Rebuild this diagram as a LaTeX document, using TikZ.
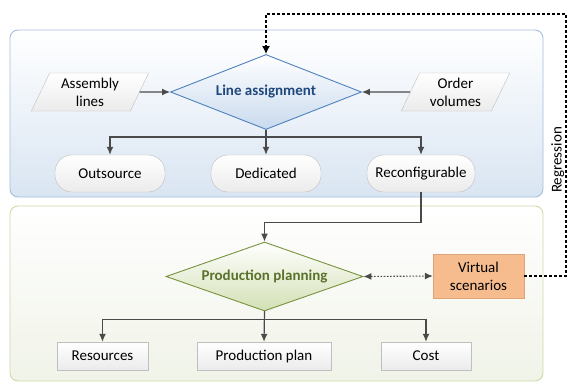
\documentclass[tikz,border=0pt]{standalone}
\usepackage{fontspec}
\setmainfont{Carlito}
\usepackage{tikz}
\usetikzlibrary{arrows.meta,shapes.geometric}

\definecolor{arrowgray}{HTML}{4A4A4A}
\definecolor{boxline}{HTML}{BFBFBF}
\definecolor{boxfill}{HTML}{EBEBEB}
\definecolor{blueline}{HTML}{4F81BD}
\definecolor{bluefill}{HTML}{C9DAEE}
\definecolor{bluetext}{HTML}{1F497D}
\definecolor{bluepanel}{HTML}{A3BEDD}
\definecolor{bluepanelfill}{HTML}{D9E5F2}
\definecolor{greenline}{HTML}{77933C}
\definecolor{greenfill}{HTML}{D3E0B5}
\definecolor{greentext}{HTML}{5A7229}
\definecolor{greenpanel}{HTML}{CCDBA8}
\definecolor{greenpanelfill}{HTML}{F0F3E8}
\definecolor{orangefill}{HTML}{F6BC8E}
\definecolor{orangeline}{HTML}{DDA47A}

\begin{document}
\begin{tikzpicture}[x=1pt,y=-1pt,
  font=\fontsize{15}{18}\selectfont,
  arr/.style={draw=arrowgray, line width=1.2pt, -{Latex[length=8pt,width=7pt]}},
  databox/.style={trapezium, trapezium left angle=66, trapezium right angle=114,
    trapezium stretches=true, draw=boxline, top color=white, bottom color=boxfill,
    align=center, minimum height=38pt, inner sep=1pt},
  pill/.style={rounded corners=17pt, draw=boxline, top color=white, bottom color=boxfill,
    minimum width=110pt, minimum height=37pt},
  result/.style={rectangle, draw=boxline, top color=white, bottom color=boxfill,
    minimum height=28pt},
  decision/.style={diamond, aspect=2.6, inner sep=1pt, line width=0.9pt, font=\fontsize{15}{18}\selectfont\bfseries}]

\useasboundingbox (0,0) rectangle (571,383);

\draw[rounded corners=8pt, draw=bluepanel, line width=0.9pt, top color=white, bottom color=bluepanelfill]
  (10,30) rectangle (543,197);
\draw[rounded corners=8pt, draw=greenpanel, line width=0.9pt, top color=white, bottom color=greenpanelfill]
  (10,206) rectangle (543,381);

\node[decision, draw=blueline, top color=white, bottom color=bluefill, text=bluetext,
  minimum width=191pt, minimum height=75pt] (la) at (266,92) {Line assignment};
\node[databox, minimum width=118pt] (asm) at (90,92) {Assembly\\lines};
\node[databox, minimum width=109pt] (ord) at (455.5,92) {Order\\volumes};

\node[pill] (out) at (110,173.5) {Outsource};
\node[pill] (ded) at (266,173.5) {Dedicated};
\node[pill, minimum width=108pt] (rec) at (421,173.5) {Reconfigurable};

\node[decision, draw=greenline, top color=white, bottom color=greenfill, text=greentext,
  minimum width=197pt, minimum height=69pt] (pp) at (264.5,276.5) {Production planning};
\node[rectangle, draw=orangeline, fill=orangefill, align=center,
  minimum width=91pt, minimum height=44pt] (vs) at (478.5,276) {Virtual\\scenarios};

\node[result, minimum width=91pt] (res) at (102.5,356) {Resources};
\node[result, minimum width=134pt] (plan) at (264,356) {Production plan};
\node[result, minimum width=90pt] (cost) at (426,356) {Cost};

\coordinate (regtop) at (566,14);

\draw[arr] (asm) -- (la.west);
\draw[arr] (ord) -- (la.east);
\draw[arr] (la.south) -- ++(0,7) -| (out.north);
\draw[arr] (la.south) -- (ded.north);
\draw[arr] (la.south) -- ++(0,7) -| (rec.north);
\draw[arr] (rec.south) -- ++(0,30) -| (pp.north);
\draw[arr] (pp.south) -- ++(0,8) -| (res.north);
\draw[arr] (pp.south) -- (plan.north);
\draw[arr] (pp.south) -- ++(0,8) -| (cost.north);
\draw[draw=arrowgray, line width=1.1pt, dash pattern=on 1.6pt off 1.6pt,
  {Latex[length=8pt,width=7pt]}-{Latex[length=8pt,width=7pt]}] (pp.east) -- (vs.west);
\draw[line width=1.4pt, dash pattern=on 3pt off 2pt, -{Latex[length=8pt,width=8pt]}]
  (vs.east) -| (regtop) -| (la.north);
\node[rotate=90, anchor=south, inner sep=1.5pt] (reg) at (566,160) {Regression};

\end{tikzpicture}
\end{document}
